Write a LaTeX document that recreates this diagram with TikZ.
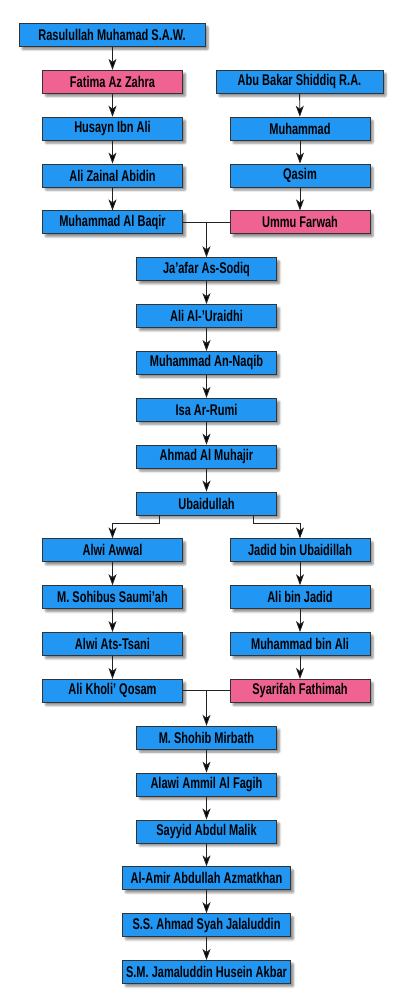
\documentclass[tikz,border=0pt]{standalone}
\usepackage{fontspec}
\setmainfont{Liberation Sans}[FakeStretch=0.71]
\usetikzlibrary{arrows.meta,shadows.blur}
\definecolor{bluebox}{HTML}{2196F3}
\definecolor{pinkbox}{HTML}{F06292}
\definecolor{edgegrey}{HTML}{333333}
\definecolor{linegrey}{HTML}{222222}
\tikzset{
  person/.style={draw=edgegrey, line width=0.9pt, fill=bluebox, minimum width=140pt, minimum height=23pt,
    inner sep=0pt, font=\fontsize{15.5}{15.5}\selectfont\bfseries, text=black,
    blur shadow={shadow xshift=3pt, shadow yshift=-3pt, shadow blur steps=6, shadow blur extra rounding=1pt, shadow opacity=45}},
  female/.style={person, fill=pinkbox},
  wide/.style={minimum width=168pt},
  conn/.style={draw=linegrey, line width=0.9pt},
  arr/.style={conn, -{Stealth[length=11pt,width=8pt,inset=3pt,fill=black]}}
}
\newcommand{\ry}[1]{\fpeval{35+46.85*#1}}
\begin{document}
\begin{tikzpicture}[x=1pt,y=-1pt]
\path[use as bounding box] (0,0) rectangle (403,1003);
\node[person, minimum width=186pt] (r0) at (112,\ry{0}) {Rasulullah Muhamad S.A.W.};
\node[female] (l1) at (112.5,\ry{1}) {Fatima Az Zahra};
\node[person, minimum width=167pt] (q1) at (299.5,\ry{1}) {Abu Bakar Shiddiq R.A.};
\node[person] (l2) at (112.5,\ry{2}) {Husayn Ibn Ali};
\node[person] (q2) at (300,\ry{2}) {Muhammad};
\node[person] (l3) at (112.5,\ry{3}) {Ali Zainal Abidin};
\node[person] (q3) at (300,\ry{3}) {Qasim};
\node[person] (l4) at (112.5,\ry{4}) {Muhammad Al Baqir};
\node[female] (q4) at (300,\ry{4}) {Ummu Farwah};
\node[person] (c5) at (206.5,\ry{5}) {Ja'afar As-Sodiq};
\node[person] (c6) at (206.5,\ry{6}) {Ali Al-'Uraidhi};
\node[person] (c7) at (206.5,\ry{7}) {Muhammad An-Naqib};
\node[person] (c8) at (206.5,\ry{8}) {Isa Ar-Rumi};
\node[person] (c9) at (206.5,\ry{9}) {Ahmad Al Muhajir};
\node[person] (c10) at (206.5,\ry{10}) {Ubaidullah};
\node[person] (l11) at (112.5,\ry{11}) {Alwi Awwal};
\node[person] (q11) at (300,\ry{11}) {Jadid bin Ubaidillah};
\node[person] (l12) at (112.5,\ry{12}) {M. Sohibus Saumi'ah};
\node[person] (q12) at (300,\ry{12}) {Ali bin Jadid};
\node[person] (l13) at (112.5,\ry{13}) {Alwi Ats-Tsani};
\node[person] (q13) at (300,\ry{13}) {Muhammad bin Ali};
\node[person] (l14) at (112.5,\ry{14}) {Ali Kholi' Qosam};
\node[female] (q14) at (300,\ry{14}) {Syarifah Fathimah};
\node[person] (c15) at (206.5,\ry{15}) {M. Shohib Mirbath};
\node[person] (c16) at (206.5,\ry{16}) {Alawi Ammil Al Fagih};
\node[person] (c17) at (206.5,\ry{17}) {Sayyid Abdul Malik};
\node[person, wide] (c18) at (206.5,\ry{18}) {Al-Amir Abdullah Azmatkhan};
\node[person, wide] (c19) at (206.5,\ry{19}) {S.S. Ahmad Syah Jalaluddin};
\node[person, wide] (c20) at (206.5,\ry{20}) {S.M. Jamaluddin Husein Akbar};
% connectors
\draw[arr] (r0.south -| l1.north) -- (l1.north);
\draw[arr] (l1) -- (l2);
\draw[arr] (l2) -- (l3);
\draw[arr] (l3) -- (l4);
\draw[arr] (q1) -- (q2);
\draw[arr] (q2) -- (q3);
\draw[arr] (q3) -- (q4);
\draw[conn] (l4.east) -- (q4.west);
\coordinate (m1) at (l4.east -| c5.north);
\draw[arr] (m1) -- (c5.north);
\draw[arr] (c5) -- (c6);
\draw[arr] (c6) -- (c7);
\draw[arr] (c7) -- (c8);
\draw[arr] (c8) -- (c9);
\draw[arr] (c9) -- (c10);
\draw[arr] ([xshift=-47pt]c10.south) |- ++(0,8) -| (l11.north);
\draw[arr] ([xshift=47pt]c10.south) |- ++(0,8) -| (q11.north);
\draw[arr] (l11) -- (l12);
\draw[arr] (l12) -- (l13);
\draw[arr] (l13) -- (l14);
\draw[arr] (q11) -- (q12);
\draw[arr] (q12) -- (q13);
\draw[arr] (q13) -- (q14);
\draw[conn] (l14.east) -- (q14.west);
\coordinate (m2) at (l14.east -| c15.north);
\draw[arr] (m2) -- (c15.north);
\draw[arr] (c15) -- (c16);
\draw[arr] (c16) -- (c17);
\draw[arr] (c17) -- (c18);
\draw[arr] (c18) -- (c19);
\draw[arr] (c19) -- (c20);
\end{tikzpicture}
\end{document}
